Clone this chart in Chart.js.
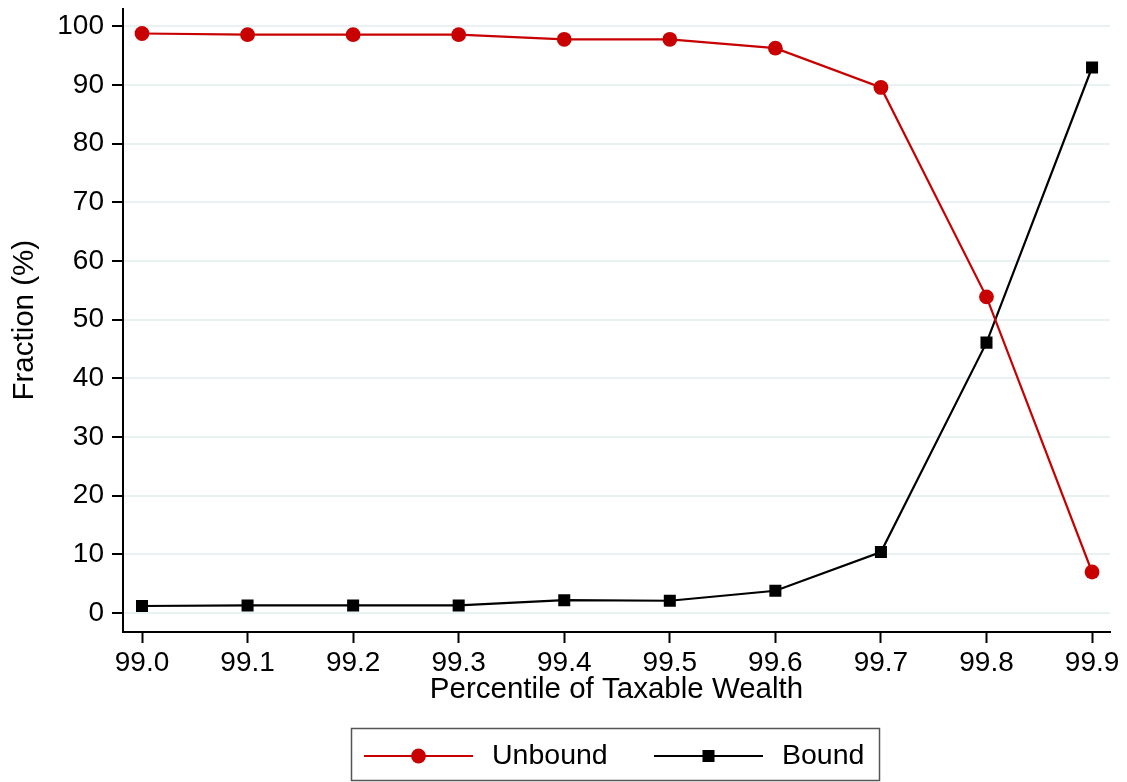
<!DOCTYPE html>
<html>
<head>
<meta charset="utf-8">
<script src="https://cdn.jsdelivr.net/npm/chart.js@4"></script>
<style>
  html, body { margin: 0; padding: 0; background: #fff; }
</style>
</head>
<body>
<canvas id="c" width="1127" height="782"></canvas>
<script>
// values
const percentiles = [99.0, 99.1, 99.2, 99.3, 99.4, 99.5, 99.6, 99.7, 99.8, 99.9];
const unbound = [98.8, 98.6, 98.6, 98.6, 97.8, 97.8, 96.3, 89.6, 53.9, 7.0];
const bound = [1.2, 1.3, 1.3, 1.3, 2.2, 2.1, 3.8, 10.4, 46.1, 93.0];
const xTicks = [99.0, 99.1, 99.2, 99.3, 99.4, 99.5, 99.6, 99.7, 99.8, 99.9];
const yTicks = [0, 10, 20, 30, 40, 50, 60, 70, 80, 90, 100];

const RED = "#c80000";
const FONT = "'Liberation Sans', Arial, sans-serif";

// Stata-style legend: boxed, line with marker in the middle of each key
const boxLegend = {
  id: "boxLegend",
  afterDraw(chart) {
    const ctx = chart.ctx;
    ctx.save();
    ctx.strokeStyle = "#555";
    ctx.lineWidth = 1.5;
    ctx.strokeRect(351.5, 728.5, 528, 52);
    const keys = [
      { x0: 364, x1: 473, textX: 492 },
      { x0: 654, x1: 763, textX: 782 },
    ];
    const y = 756;
    chart.data.datasets.forEach((ds, i) => {
      const k = keys[i];
      ctx.strokeStyle = ds.borderColor;
      ctx.lineWidth = ds.borderWidth;
      ctx.beginPath();
      ctx.moveTo(k.x0, y);
      ctx.lineTo(k.x1, y);
      ctx.stroke();
      ctx.fillStyle = ds.pointBackgroundColor;
      ctx.strokeStyle = ds.pointBackgroundColor;
      Chart.helpers.drawPoint(ctx, {
        pointStyle: ds.pointStyle,
        radius: ds.pointRadius,
        borderWidth: 0,
      }, (k.x0 + k.x1) / 2, y);
      ctx.fillStyle = "#000";
      ctx.font = "28.5px " + FONT;
      ctx.textBaseline = "middle";
      ctx.fillText(ds.label, k.textX, y);
    });
    ctx.restore();
  },
};

new Chart(document.getElementById("c"), {
  type: "line",
  data: {
    datasets: [
      {
        label: "Unbound",
        data: percentiles.map((p, i) => ({ x: p, y: unbound[i] })),
        borderColor: RED,
        backgroundColor: RED,
        pointBackgroundColor: RED,
        pointBorderColor: RED,
        borderWidth: 2.2,
        pointStyle: "circle",
        pointRadius: 7.4,
        pointBorderWidth: 0,
      },
      {
        label: "Bound",
        data: percentiles.map((p, i) => ({ x: p, y: bound[i] })),
        borderColor: "#000",
        backgroundColor: "#000",
        pointBackgroundColor: "#000",
        pointBorderColor: "#000",
        borderWidth: 2.2,
        pointStyle: "rect",
        pointRadius: 8.5,
        pointBorderWidth: 0,
      },
    ],
  },
  options: {
    responsive: false,
    animation: false,
    devicePixelRatio: 1,
    layout: { padding: { top: 7, right: 17, bottom: 70, left: 0 } },
    plugins: {
      legend: { display: false },
      tooltip: { enabled: false },
    },
    elements: { line: { tension: 0 } },
    scales: {
      x: {
        type: "linear",
        min: 98.982,
        max: 99.917,
        afterBuildTicks: (s) => { s.ticks = xTicks.map((v) => ({ value: v })); },
        afterFit: (s) => {
          s.height = 80;
          s.paddingLeft = 0;
          s.paddingRight = 0;
        },
        ticks: {
          color: "#000",
          font: { family: FONT, size: 28 },
          padding: 3,
          maxRotation: 0,
          autoSkip: false,
          callback: (v) => Number(v).toFixed(1),
        },
        grid: {
          drawOnChartArea: false,
          tickColor: "#000",
          tickWidth: 2,
          tickLength: 11,
        },
        border: { color: "#000", width: 2 },
        title: {
          display: true,
          text: "Percentile of Taxable Wealth",
          color: "#000",
          font: { family: FONT, size: 29.5 },
          padding: { top: 0, bottom: 4 },
        },
      },
      y: {
        min: -3.23,
        max: 103.06,
        afterBuildTicks: (s) => { s.ticks = yTicks.map((v) => ({ value: v })); },
        afterFit: (s) => {
          s.width = 123;
          s.paddingTop = 0;
          s.paddingBottom = 0;
        },
        ticks: {
          color: "#000",
          font: { family: FONT, size: 28 },
          padding: 8,
        },
        grid: {
          color: "#e9f1f2",
          lineWidth: 2,
          tickColor: "#000",
          tickWidth: 2,
          tickLength: 11,
        },
        border: { color: "#000", width: 2 },
        title: {
          display: true,
          text: "Fraction (%)",
          color: "#000",
          font: { family: FONT, size: 29.5 },
          padding: { top: 7, bottom: 0 },
        },
      },
    },
  },
  plugins: [boxLegend],
});
</script>
</body>
</html>
